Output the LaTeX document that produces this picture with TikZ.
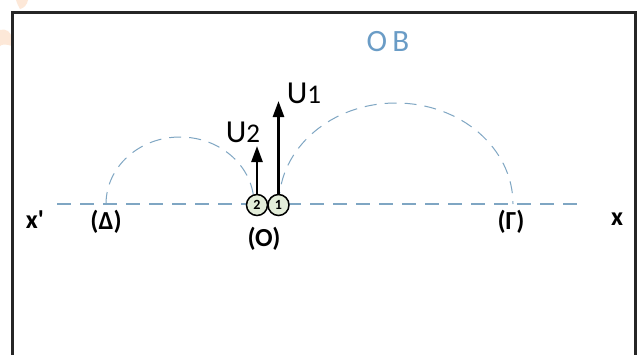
\documentclass[tikz,border=0pt]{standalone}
\usepackage{fontspec}
\setmainfont{Carlito}[Ligatures=TeXOff]
\usetikzlibrary{arrows.meta}
\definecolor{dashblue}{HTML}{7FA6C3}
\definecolor{obblue}{HTML}{6A9CC6}
\definecolor{ballfill}{HTML}{E3EDD9}
\definecolor{wmorange}{HTML}{FDE3CF}
\tikzset{
  axisline/.style={dashblue, line width=1.1pt, dash pattern=on 14pt off 9pt},
  arcline/.style={dashblue, line width=1pt, dash pattern=on 12pt off 8pt},
  ball/.style={circle, draw=black, line width=1.5pt, fill=ballfill, minimum size=21pt, inner sep=0pt, font=\bfseries\fontsize{14}{14}\selectfont},
  vel/.style={line width=2.6pt, -{Triangle[length=16pt,width=11pt]}},
  blab/.style={font=\bfseries\fontsize{26}{28}\selectfont, inner sep=0pt},
  ulab/.style={font=\fontsize{32}{34}\selectfont, inner sep=0pt},
  frame/.style={line width=3pt, black!85}
}
\begin{document}
\begin{tikzpicture}[x=1pt,y=-1pt]
\useasboundingbox (0,0) rectangle (639,354);
\fill[white] (0,0) rectangle (639,354);
% watermark fragments
\fill[wmorange, opacity=0.8] (0,30) .. controls (6,28) and (11,32) .. (12,38) -- (12,46) .. controls (6,44) and (2,44) .. (0,46) -- cycle;
\fill[wmorange, opacity=0.8] (16,0) -- (28,0) .. controls (27,5) and (24,8) .. (20,9) .. controls (18,6) and (17,3) .. (16,0) -- cycle;
% frame
\draw[frame] (12.5,360) -- (12.5,12) -- (635.5,12) -- (635.5,360);
% axis
\coordinate (axL) at (57,204);
\coordinate (axR) at (585,204);
\draw[axisline] (axL) -- (axR);
% points
\coordinate (D) at (106,204);
\coordinate (G) at (513,204);
\coordinate (Rstart) at (279,204);
% arcs
\draw[arcline] (D) arc[start angle=180, end angle=0, x radius=74, y radius=-67];
\draw[arcline] (Rstart) arc[start angle=180, end angle=0, x radius=117, y radius=-101];
% balls
\node[ball] (b2) at (257,205) {2};
\node[ball] (b1) at (278.5,205) {1};
% velocity vectors
\coordinate (t2) at (257,146);
\coordinate (t1) at (278.5,101);
\draw[vel] (b2.north) -- (t2);
\draw[vel] (b1.north) -- (t1);
% labels
\node[ulab] (u2) at (243,132) {U\fontsize{27}{28}\selectfont 2};
\node[ulab] (u1) at (304,93) {U\fontsize{27}{28}\selectfont 1};
\node[font=\fontsize{31}{33}\selectfont, text=obblue, inner sep=0pt] (ob) at (388,42) {O\,B};
\node[blab] (xp) at (35,220) {x'};
\node[blab] (ld) at (106,222) {(Δ)};
\node[blab] (lo) at (264,239) {(O)};
\node[blab] (lg) at (511,222) {(Γ)};
\node[blab] (xx) at (617,219) {x};
\end{tikzpicture}
\end{document}
